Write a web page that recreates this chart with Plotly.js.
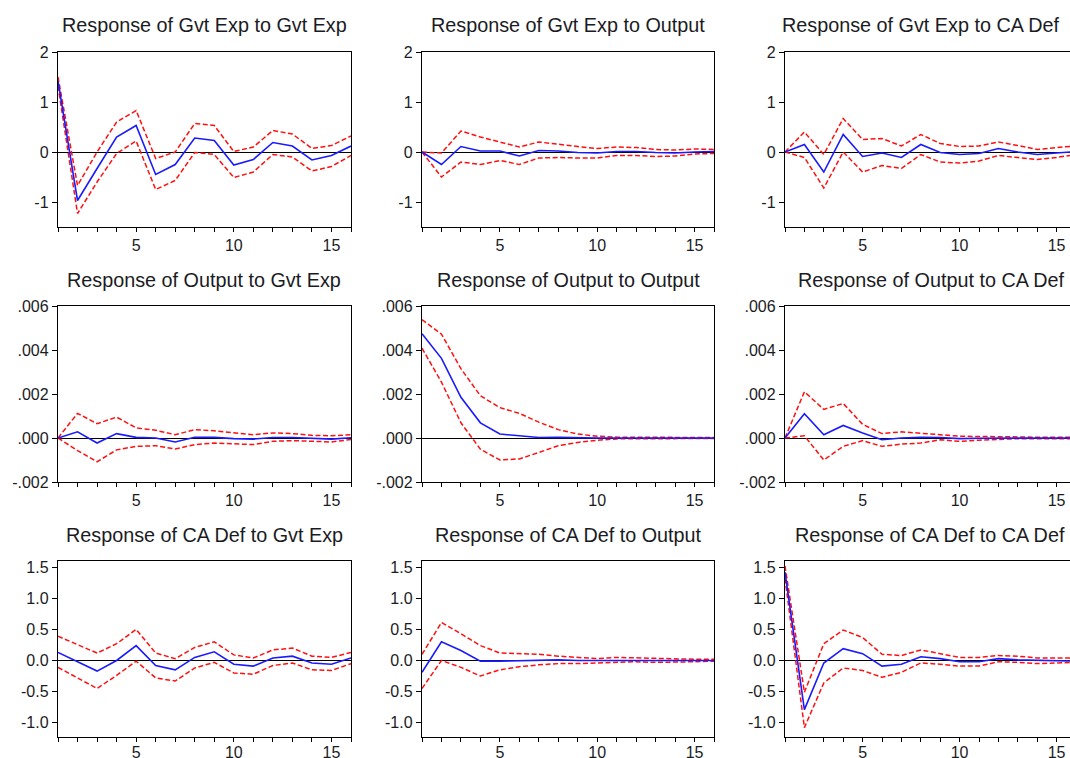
<!DOCTYPE html>
<html>
<head>
<meta charset="utf-8">
<script src="https://cdn.plot.ly/plotly-3.0.1.min.js"></script>
<style>
html, body { margin: 0; padding: 0; overflow: hidden; background: #fff; }
#chart { width: 1080px; height: 758px; }
</style>
</head>
<body>
<div id="chart"></div>
<script>
// Horizon (periods)
const periods = [1, 2, 3, 4, 5, 6, 7, 8, 9, 10, 11, 12, 13, 14, 15, 16];
const xTickLabels = ['', '', '', '', '5', '', '', '', '', '10', '', '', '', '', '15', ''];

// Panel titles
const panelTitles = [
  'Response of Gvt Exp to Gvt Exp', 'Response of Gvt Exp to Output', 'Response of Gvt Exp to CA Def',
  'Response of Output to Gvt Exp', 'Response of Output to Output', 'Response of Output to CA Def',
  'Response of CA Def to Gvt Exp', 'Response of CA Def to Output', 'Response of CA Def to CA Def'
];

// Y tick values / labels per row
const row1TickVals = [2, 1, 0, -1];
const row1TickText = ['2', '1', '0', '-1'];
const row2TickVals = [0.006, 0.004, 0.002, 0, -0.002];
const row2TickText = ['.006', '.004', '.002', '.000', '-.002'];
const row3TickVals = [1.5, 1.0, 0.5, 0, -0.5, -1.0];
const row3TickText = ['1.5', '1.0', '0.5', '0.0', '-0.5', '-1.0'];

// Gvt Exp to Gvt Exp
const gvtGvtResp  = [1.42, -0.97, -0.33, 0.30, 0.53, -0.45, -0.25, 0.28, 0.23, -0.26, -0.15, 0.19, 0.12, -0.16, -0.07, 0.12];
const gvtGvtUpper = [1.50, -0.67, 0.00, 0.60, 0.83, -0.13, 0.00, 0.57, 0.53, 0.01, 0.10, 0.43, 0.36, 0.07, 0.13, 0.32];
const gvtGvtLower = [1.32, -1.23, -0.60, -0.03, 0.22, -0.75, -0.57, -0.01, -0.05, -0.51, -0.40, -0.05, -0.10, -0.38, -0.29, -0.07];

// Gvt Exp to Output
const gvtOutResp  = [0, -0.25, 0.11, 0.02, 0.02, -0.08, 0.03, 0.02, -0.01, -0.02, 0.01, 0.01, -0.01, -0.02, 0.00, 0.01];
const gvtOutUpper = [0, -0.02, 0.42, 0.30, 0.20, 0.10, 0.20, 0.15, 0.11, 0.07, 0.10, 0.09, 0.05, 0.04, 0.06, 0.05];
const gvtOutLower = [0, -0.50, -0.20, -0.25, -0.17, -0.25, -0.12, -0.11, -0.12, -0.12, -0.07, -0.07, -0.09, -0.08, -0.04, -0.03];

// Gvt Exp to CA Def
const gvtCaResp  = [0, 0.15, -0.40, 0.35, -0.09, -0.02, -0.11, 0.15, -0.01, -0.05, -0.03, 0.07, 0.00, -0.05, -0.02, 0.01];
const gvtCaUpper = [0, 0.40, -0.05, 0.67, 0.25, 0.27, 0.12, 0.35, 0.17, 0.11, 0.12, 0.20, 0.13, 0.05, 0.09, 0.12];
const gvtCaLower = [0, -0.11, -0.72, 0.00, -0.40, -0.27, -0.33, -0.05, -0.20, -0.22, -0.18, -0.07, -0.11, -0.15, -0.11, -0.05];

// Output to Gvt Exp
const outGvtResp  = [0, 0.00028, -0.00023, 0.00020, 0.00003, 0.00000, -0.00018, 0.00003, 0.00003, -0.00003, -0.00005, 0.00002, 0.00002, -0.00003, -0.00005, 0.00001];
const outGvtUpper = [0, 0.00112, 0.00065, 0.00095, 0.00046, 0.00035, 0.00015, 0.00038, 0.00033, 0.00023, 0.00015, 0.00023, 0.00020, 0.00012, 0.00010, 0.00015];
const outGvtLower = [0, -0.00057, -0.00108, -0.00054, -0.00038, -0.00035, -0.00050, -0.00030, -0.00023, -0.00028, -0.00030, -0.00015, -0.00012, -0.00015, -0.00018, -0.00007];

// Output to Output
const outOutResp  = [0.00474, 0.00362, 0.00185, 0.00069, 0.00018, 0.00011, 0.00002, 0.00003, 0.00000, 0.00000, 0, 0, 0, 0, 0, 0];
const outOutUpper = [0.00538, 0.00472, 0.00315, 0.00192, 0.00138, 0.00112, 0.00072, 0.00038, 0.00018, 0.00008, 0.00004, 0.00003, 0.00003, 0.00002, 0.00002, 0.00002];
const outOutLower = [0.00408, 0.00254, 0.00069, -0.00051, -0.00100, -0.00095, -0.00066, -0.00035, -0.00020, -0.00010, -0.00004, -0.00003, -0.00003, -0.00002, -0.00002, -0.00002];

// Output to CA Def
const outCaResp  = [0, 0.00110, 0.00015, 0.00057, 0.00023, -0.00008, 0.00000, 0.00003, 0.00002, -0.00003, -0.00001, 0, 0, 0, 0, 0];
const outCaUpper = [0, 0.00210, 0.00130, 0.00157, 0.00062, 0.00020, 0.00028, 0.00023, 0.00015, 0.00008, 0.00008, 0.00007, 0.00005, 0.00003, 0.00003, 0.00003];
const outCaLower = [0, 0.00010, -0.00100, -0.00038, -0.00012, -0.00038, -0.00028, -0.00023, -0.00008, -0.00015, -0.00010, -0.00005, -0.00003, -0.00003, -0.00003, -0.00003];

// CA Def to Gvt Exp
const caGvtResp  = [0.13, -0.02, -0.17, 0.00, 0.24, -0.08, -0.15, 0.05, 0.14, -0.06, -0.09, 0.04, 0.07, -0.04, -0.06, 0.04];
const caGvtUpper = [0.39, 0.25, 0.12, 0.27, 0.50, 0.12, 0.03, 0.21, 0.30, 0.09, 0.04, 0.17, 0.20, 0.07, 0.05, 0.13];
const caGvtLower = [-0.11, -0.28, -0.45, -0.24, -0.01, -0.28, -0.33, -0.12, -0.03, -0.20, -0.22, -0.08, -0.04, -0.15, -0.16, -0.05];

// CA Def to Output
const caOutResp  = [-0.19, 0.30, 0.16, -0.01, -0.01, 0.00, 0.01, 0.01, 0.00, 0.00, 0.01, 0.01, 0.00, 0.00, 0.00, 0.00];
const caOutUpper = [0.10, 0.61, 0.43, 0.24, 0.12, 0.11, 0.10, 0.07, 0.05, 0.03, 0.05, 0.04, 0.03, 0.02, 0.02, 0.02];
const caOutLower = [-0.45, 0.00, -0.11, -0.25, -0.15, -0.10, -0.07, -0.05, -0.05, -0.04, -0.02, -0.02, -0.03, -0.03, -0.02, -0.01];

// CA Def to CA Def
const caCaResp  = [1.42, -0.79, -0.04, 0.19, 0.11, -0.09, -0.06, 0.06, 0.03, -0.02, -0.02, 0.03, 0.01, 0.00, 0.00, -0.01];
const caCaUpper = [1.52, -0.51, 0.27, 0.49, 0.37, 0.10, 0.08, 0.17, 0.11, 0.05, 0.05, 0.08, 0.07, 0.04, 0.04, 0.04];
const caCaLower = [1.32, -1.08, -0.36, -0.12, -0.16, -0.27, -0.19, -0.04, -0.06, -0.09, -0.09, -0.02, -0.03, -0.05, -0.04, -0.03];

const panels = [
  [gvtGvtResp, gvtGvtUpper, gvtGvtLower],
  [gvtOutResp, gvtOutUpper, gvtOutLower],
  [gvtCaResp, gvtCaUpper, gvtCaLower],
  [outGvtResp, outGvtUpper, outGvtLower],
  [outOutResp, outOutUpper, outOutLower],
  [outCaResp, outCaUpper, outCaLower],
  [caGvtResp, caGvtUpper, caGvtLower],
  [caOutResp, caOutUpper, caOutLower],
  [caCaResp, caCaUpper, caCaLower]
];

// Layout geometry (pixels)
const W = 1080, H = 758;
const colPx = [[58, 351], [422, 714], [785, 1076]];
const rowPx = [[52, 227], [306, 482], [561, 737]];
const titleY = [25, 280, 535];
const titleX = [204, 568, 921, 204, 568, 931, 204, 568, 930];
const xLabelStandoff = [0, 0, -3];
const rowRanges = [[-1.5, 2], [-0.002, 0.006], [-1.23, 1.6]];
const rowTicks = [[row1TickVals, row1TickText], [row2TickVals, row2TickText], [row3TickVals, row3TickText]];

const FONT = 'Liberation Sans, Arial, sans-serif';
const TXT = '#1b1b24';

const traces = [];
const layout = {
  width: W, height: H,
  margin: {l: 0, r: 0, t: 0, b: 0},
  paper_bgcolor: '#fff', plot_bgcolor: '#fff',
  showlegend: false,
  hovermode: false,
  font: {family: FONT, color: TXT, size: 16},
  annotations: []
};

for (let i = 0; i < 9; i++) {
  const r = Math.floor(i / 3), c = i % 3;
  const sfx = i === 0 ? '' : String(i + 1);
  const xa = 'x' + sfx, ya = 'y' + sfx;
  const [resp, upper, lower] = panels[i];
  const red = {color: '#ff1010', width: 1.5, dash: '5px,2.5px'};
  traces.push({x: periods, y: upper, xaxis: xa, yaxis: ya, mode: 'lines', line: red});
  traces.push({x: periods, y: lower, xaxis: xa, yaxis: ya, mode: 'lines', line: red});
  traces.push({x: periods, y: resp, xaxis: xa, yaxis: ya, mode: 'lines', line: {color: '#1a1aff', width: 1.6}});

  layout['xaxis' + sfx] = {
    domain: [colPx[c][0] / W, colPx[c][1] / W],
    anchor: ya,
    range: [1, 16],
    tickmode: 'array', tickvals: periods, ticktext: xTickLabels,
    ticks: 'outside', ticklen: 4, tickwidth: 1, tickcolor: '#000',
    ticklabelstandoff: xLabelStandoff[r],
    showline: true, mirror: true, linecolor: '#000', linewidth: 1.2,
    showgrid: false, zeroline: false,
    tickfont: {family: FONT, size: 16, color: TXT},
    fixedrange: true
  };
  layout['yaxis' + sfx] = {
    domain: [1 - rowPx[r][1] / H, 1 - rowPx[r][0] / H],
    anchor: xa,
    range: rowRanges[r],
    tickmode: 'array', tickvals: rowTicks[r][0], ticktext: rowTicks[r][1],
    ticks: 'outside', ticklen: 5, tickwidth: 1, tickcolor: '#000',
    showline: true, mirror: true, linecolor: '#000', linewidth: 1.2,
    showgrid: false, zeroline: true, zerolinecolor: '#000', zerolinewidth: 1,
    tickfont: {family: FONT, size: 16, color: TXT},
    fixedrange: true
  };
  layout.annotations.push({
    text: panelTitles[i],
    xref: 'paper', yref: 'paper',
    x: titleX[i] / W,
    y: 1 - titleY[r] / H,
    xanchor: 'center', yanchor: 'middle',
    showarrow: false,
    font: {family: FONT, size: 19.8, color: TXT}
  });
}

Plotly.newPlot('chart', traces, layout, {displayModeBar: false, staticPlot: true});
</script>
</body>
</html>
